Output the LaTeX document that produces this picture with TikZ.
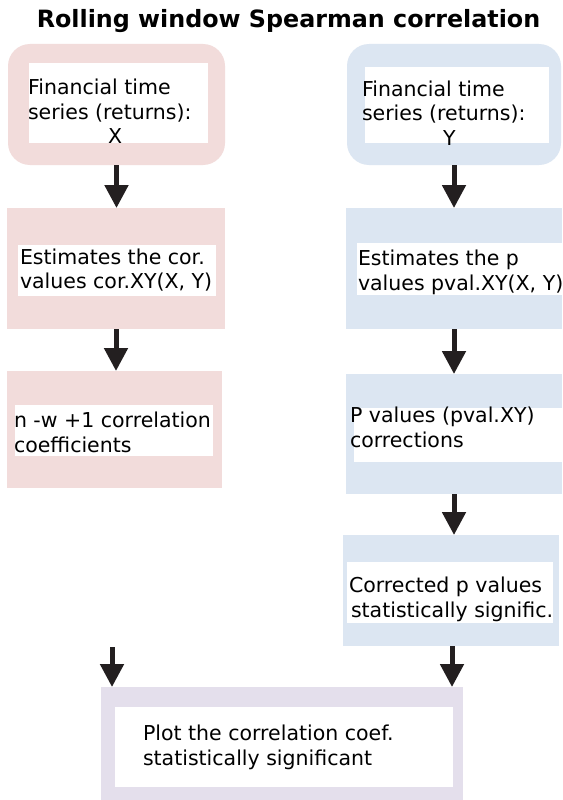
\documentclass[tikz,border=0pt]{standalone}
\usepackage{fontspec}
\setmainfont{DejaVu Sans}
\usetikzlibrary{arrows.meta}
\definecolor{pinkc}{HTML}{F2DCDB}
\definecolor{bluec}{HTML}{DCE6F2}
\definecolor{purpc}{HTML}{E4DFEC}
\definecolor{arrc}{HTML}{231F20}
\begin{document}
\begin{tikzpicture}[x=1pt,y=-1pt,
  box/.style={draw=none, inner sep=0pt, outer sep=0pt, anchor=north west},
  whitebox/.style={box, fill=white},
  txt/.style={anchor=base west, inner sep=0pt, outer sep=0pt, align=left,
    font=\fontsize{20.5}{24.5}\selectfont, text=black},
  arr/.style={line width=5pt, draw=arrc, -{Triangle[width=23pt,length=23pt]}}]
\useasboundingbox (0,0) rectangle (562,800);
\fill[white] (0,0) rectangle (562,800);

\node[anchor=base, inner sep=0pt, font=\fontsize{23.8}{27}\selectfont\bfseries] (title) at (288.5,28) {Rolling window Spearman correlation};

% left column
\node[box, fill=pinkc, rounded corners=22pt, minimum width=217pt, minimum height=121pt] (p1) at (8,44) {};
\node[whitebox, minimum width=179pt, minimum height=80pt] (p1w) at (29,63) {};
\node[txt] (p1t) at (28,143.5) {Financial time\\series (returns):\\\hspace*{80pt}X};

\node[box, fill=pinkc, minimum width=218pt, minimum height=121pt] (p2) at (7,208) {};
\node[whitebox, minimum width=198pt, minimum height=51pt] (p2w) at (18,245) {};
\node[txt] (p2t) at (20,288.5) {Estimates the cor.\\values cor.XY(X, Y)};

\node[box, fill=pinkc, minimum width=215pt, minimum height=117pt] (p3) at (7,371) {};
\node[whitebox, minimum width=198pt, minimum height=51pt] (p3w) at (15,405) {};
\node[txt] (p3t) at (14,452) {n -w +1 correlation\\coefficients};

% right column
\node[box, fill=bluec, rounded corners=22pt, minimum width=214pt, minimum height=121pt] (b1) at (347,44) {};
\node[whitebox, minimum width=184pt, minimum height=76pt] (b1w) at (365,67) {};
\node[txt] (b1t) at (362,145) {Financial time\\series (returns):\\\hspace*{81pt}Y};

\node[box, fill=bluec, minimum width=216pt, minimum height=121pt] (b2) at (346,208) {};
\node[whitebox, minimum width=205pt, minimum height=52pt] (b2w) at (357,243) {};
\node[txt] (b2t) at (358,290) {Estimates the p\\values pval.XY(X, Y)};

\node[box, fill=bluec, minimum width=216pt, minimum height=120pt] (b3) at (346,374) {};
\node[whitebox, minimum width=208pt, minimum height=54pt] (b3w) at (354,408) {};
\node[txt] (b3t) at (350,447) {P values (pval.XY)\\corrections};

\node[box, fill=bluec, minimum width=216pt, minimum height=111pt] (b4) at (343,535) {};
\node[whitebox, minimum width=206pt, minimum height=61pt] (b4w) at (347,562) {};
\node[txt] (b4t) at (349,617) {Corrected p values\\\hspace*{2pt}statistically signific.};

% bottom
\node[box, fill=purpc, minimum width=362pt, minimum height=113pt] (pu) at (101,687) {};
\node[whitebox, minimum width=338pt, minimum height=80pt] (puw) at (115,707) {};
\node[txt] (put) at (143,765) {Plot the correlation coef.\\statistically significant};

% arrows
\draw[arr] (p1.south) -- (p1.south |- p2.north);
\draw[arr] (p2.south) -- (p2.south |- p3.north);
\draw[arr] (b1.south) -- (b1.south |- b2.north);
\draw[arr] (b2.south) -- (b2.south |- b3.north);
\draw[arr] (b3.south) -- (b3.south |- b4.north);
\draw[arr] ([xshift=1pt]b4.south) -- ([xshift=1pt]b4.south |- pu.north);
\coordinate (lfree) at (112,647);
\draw[arr] (lfree) -- (lfree |- pu.north);
\end{tikzpicture}
\end{document}
